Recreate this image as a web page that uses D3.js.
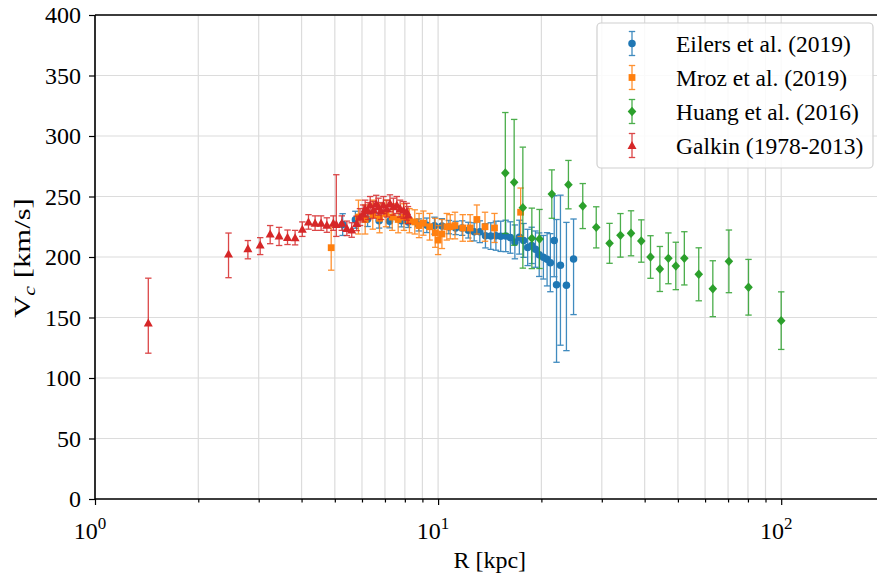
<!DOCTYPE html>
<html>
<head>
<meta charset="utf-8">
<script src="https://cdn.jsdelivr.net/npm/d3@7"></script>
<style>
  body { margin: 0; background: #fff; }
  text { font-family: "Liberation Serif", "Times New Roman", serif; }
</style>
</head>
<body>
<div id="chart"></div>
<script>
// rotation curve compilations
// Eilers et al. (2019)
var eilersR = [5.27, 5.74, 6.23, 6.73, 7.22, 7.82, 8.19, 8.78, 9.27, 9.76, 10.26, 10.75, 11.25, 11.75, 12.25, 12.74, 13.23, 13.74, 14.24, 14.74, 15.22, 15.74, 16.24, 16.74, 17.25, 17.75, 18.24, 18.74, 19.22, 19.71, 20.27, 20.78, 21.24, 21.80, 22.14, 22.73, 23.66, 24.82];
var eilersV = [226.8, 230.8, 231.2, 229.9, 229.6, 229.9, 228.9, 226.5, 226.2, 225.9, 225.7, 224.7, 224.0, 223.9, 222.2, 220.8, 220.9, 217.5, 217.3, 217.6, 217.1, 217.4, 216.1, 212.5, 216.4, 213.7, 207.9, 209.6, 206.5, 201.9, 199.8, 198.1, 195.3, 213.7, 177.0, 193.1, 176.6, 198.4];
var eilersLo = [9, 7, 6, 6, 5.5, 5, 4.5, 5, 6, 7, 6, 5.5, 5.5, 6, 6.5, 7.5, 9, 10, 11, 12, 12.5, 13, 13, 14, 14, 14, 15, 15, 15, 18, 18, 22, 24, 30, 64, 66, 54, 46];
var eilersHi = [9, 7, 6, 6, 5.5, 5, 4.5, 5, 6, 7, 6, 5.5, 5.5, 6, 6.5, 7.5, 9, 10, 11, 12, 12.5, 13, 13, 14, 14, 14, 15, 15, 15, 18, 18, 22, 24, 37, 54, 58, 52, 33];

// Mroz et al. (2019)
var mrozR = [4.88, 5.86, 6.13, 6.45, 6.75, 7.05, 7.35, 7.65, 7.95, 8.25, 8.55, 8.8, 9.06, 9.45, 9.81, 10.0, 10.26, 10.6, 10.85, 11.2, 11.8, 12.4, 12.97, 13.7, 14.6, 17.4];
var mrozV = [207.7, 233, 231, 235, 232, 236, 233, 231, 233, 230, 229, 226, 228, 225, 220, 214, 219, 225, 225, 226, 224, 224, 231, 225, 224, 237];
var mrozErr = [18.6, 14, 12, 12, 12, 11, 11, 11, 11, 10, 10, 10, 10, 11, 12, 12, 12, 11, 10, 11, 11, 11, 12, 12, 12, 20];

// Huang et al. (2016)
var huangR = [15.7, 16.66, 17.66, 18.76, 19.75, 21.45, 23.98, 26.4, 28.9, 31.6, 34.0, 36.5, 39.1, 41.6, 44.3, 46.9, 49.3, 52.2, 57.5, 63.2, 70.4, 80.3, 100];
var huangV = [269.4, 261.7, 240.8, 215.4, 214.9, 252, 259.8, 242.1, 224.5, 211.3, 217.9, 219.6, 213.2, 200, 190.1, 198.9, 192.6, 198.9, 185.7, 173.8, 196.4, 175, 147.4];
var huangErr = [50, 52, 50, 25, 24.4, 20, 20, 18.6, 17, 16.5, 18, 18.6, 17.5, 17.6, 18.6, 21, 19.6, 22, 21.9, 23.1, 25.9, 23, 23.8];

// Galkin (1978-2013)
var galkinR = [1.43, 2.45, 2.79, 3.03, 3.24, 3.44, 3.64, 3.83, 4.02, 4.19, 4.38, 4.56, 4.74, 4.95, 5.05, 5.24, 5.42, 5.6, 5.79, 5.92, 6.05, 6.13, 6.25, 6.34, 6.48, 6.6, 6.7, 6.82, 6.93, 7.09, 7.24, 7.41, 7.58, 7.75, 7.93, 8.1, 8.17];
var galkinV = [145.5, 202.5, 207, 210, 219, 217.5, 216.3, 216, 223, 229, 228, 228, 226.4, 228, 227, 228, 223.7, 222.3, 227.8, 233, 236, 240, 238, 243, 239, 244, 241.6, 238, 243, 240, 244.4, 241.6, 243, 240, 238.8, 237.4, 234.7];
var galkinLo = [25, 19.6, 8.5, 8, 8, 8, 6, 6, 6, 6, 6, 6, 6, 6, 10, 6, 6, 6, 6, 7, 7, 7, 7, 7, 7, 7, 7, 7, 7, 7, 7, 7, 7, 7, 7, 7, 7];
var galkinHi = [37, 17.3, 6.6, 6, 7, 7, 6, 6, 6, 6, 6, 6, 6, 6, 41, 6, 6, 6, 6, 7, 7, 7, 7, 7, 7, 7, 7, 7, 7, 7, 7, 7, 7, 7, 7, 7, 7];

var yTicks = [0, 50, 100, 150, 200, 250, 300, 350, 400];
var xMajor = [1, 10, 100];
var xMajorExp = ["0", "1", "2"];
var legendLabels = ["Eilers et al. (2019)", "Mroz et al. (2019)", "Huang et al. (2016)", "Galkin (1978-2013)"];
var colors = ["#1f77b4", "#ff7f0e", "#2ca02c", "#d62728"];

var width = 877, height = 576;
var plotLeft = 95, plotTop = 15, plotBottom = 499;
var plotRight = plotLeft + 343.1 * Math.log10(200);

var x = d3.scaleLog().domain([1, 200]).range([plotLeft, plotRight]);
var y = d3.scaleLinear().domain([0, 400]).range([plotBottom, plotTop]);

var svg = d3.select("#chart").append("svg")
  .attr("width", width).attr("height", height)
  .style("background", "#fff");

// minor positions for the log axis
var xMinor = [];
[1, 10, 100].forEach(function(d) {
  for (var k = 1; k < 10; k++) {
    if (k * d <= 200) xMinor.push(k * d);
  }
});

// grid
var grid = svg.append("g").attr("stroke", "#dcdcdc").attr("stroke-width", 1.2);
grid.selectAll("line.vx").data(xMinor).enter().append("line")
  .attr("x1", function(d) { return x(d); }).attr("x2", function(d) { return x(d); })
  .attr("y1", plotTop).attr("y2", plotBottom);
grid.selectAll("line.hy").data(yTicks).enter().append("line")
  .attr("y1", function(d) { return y(d); }).attr("y2", function(d) { return y(d); })
  .attr("x1", plotLeft).attr("x2", plotRight);

// shapes, matplotlib style markers
function markerPath(shape) {
  if (shape === "circle") return d3.symbol(d3.symbolCircle, 44)();
  if (shape === "square") return "M-3.4,-3.4L3.4,-3.4L3.4,3.4L-3.4,3.4Z";
  if (shape === "diamond") return "M0,-4.7L4.3,0L0,4.7L-4.3,0Z";
  return "M0,-4.5L-4.5,3.6L4.5,3.6Z";
}

function drawSeries(R, V, lo, hi, color, shape) {
  var g = svg.append("g");
  var pts = R.map(function(r, i) { return {r: r, v: V[i], lo: lo[i], hi: hi[i]}; });
  var bars = g.append("g").attr("stroke", color).attr("stroke-width", 1.3).attr("opacity", 0.85);
  bars.selectAll("line.bar").data(pts).enter().append("line")
    .attr("x1", function(d) { return x(d.r); }).attr("x2", function(d) { return x(d.r); })
    .attr("y1", function(d) { return y(d.v - d.lo); }).attr("y2", function(d) { return y(d.v + d.hi); });
  bars.selectAll("line.capLo").data(pts).enter().append("line")
    .attr("x1", function(d) { return x(d.r) - 3.2; }).attr("x2", function(d) { return x(d.r) + 3.2; })
    .attr("y1", function(d) { return y(d.v - d.lo); }).attr("y2", function(d) { return y(d.v - d.lo); });
  bars.selectAll("line.capHi").data(pts).enter().append("line")
    .attr("x1", function(d) { return x(d.r) - 3.2; }).attr("x2", function(d) { return x(d.r) + 3.2; })
    .attr("y1", function(d) { return y(d.v + d.hi); }).attr("y2", function(d) { return y(d.v + d.hi); });
  g.selectAll("path").data(pts).enter().append("path")
    .attr("d", markerPath(shape))
    .attr("fill", color)
    .attr("transform", function(d) { return "translate(" + x(d.r) + "," + y(d.v) + ")"; });
}

drawSeries(eilersR, eilersV, eilersLo, eilersHi, colors[0], "circle");
drawSeries(mrozR, mrozV, mrozErr, mrozErr, colors[1], "square");
drawSeries(huangR, huangV, huangErr, huangErr, colors[2], "diamond");
drawSeries(galkinR, galkinV, galkinLo, galkinHi, colors[3], "triangle");

// axes
var xAxis = svg.append("g").attr("transform", "translate(0," + plotBottom + ")")
  .call(d3.axisBottom(x).tickValues(xMajor).tickSize(6).tickFormat(""));
var xAxisMinor = svg.append("g").attr("transform", "translate(0," + plotBottom + ")")
  .call(d3.axisBottom(x).tickValues(xMinor.filter(function(d) { return xMajor.indexOf(d) < 0; })).tickSize(3.5).tickFormat(""));
[xAxis, xAxisMinor].forEach(function(a) {
  a.select(".domain").remove();
  a.selectAll(".tick line").attr("stroke", "#000").attr("stroke-width", 1.2);
});

xMajor.forEach(function(d, i) {
  var t = svg.append("text").attr("x", x(d) - 5).attr("y", 539)
    .attr("text-anchor", "middle").attr("font-size", 24).attr("fill", "#000");
  t.append("tspan").text("10");
  t.append("tspan").attr("dy", -10).attr("font-size", 17).text(xMajorExp[i]);
});

var yAxis = svg.append("g").attr("transform", "translate(" + plotLeft + ",0)")
  .call(d3.axisLeft(y).tickValues(yTicks).tickSize(6).tickPadding(8));
yAxis.select(".domain").remove();
yAxis.selectAll(".tick line").attr("stroke", "#000").attr("stroke-width", 1.2);
yAxis.selectAll(".tick text").attr("font-size", 24).attr("font-family", "Liberation Serif").attr("fill", "#000");

// spines
var spines = svg.append("g").attr("stroke", "#000").attr("stroke-width", 1.6);
spines.append("line").attr("x1", plotLeft).attr("x2", plotLeft).attr("y1", plotTop).attr("y2", plotBottom);
spines.append("line").attr("x1", plotLeft).attr("x2", plotRight).attr("y1", plotBottom).attr("y2", plotBottom);
spines.append("line").attr("x1", plotLeft).attr("x2", plotRight).attr("y1", plotTop).attr("y2", plotTop);

// axis labels
svg.append("text").attr("x", (plotLeft + plotRight) / 2).attr("y", 568)
  .attr("text-anchor", "middle").attr("font-size", 24).text("R [kpc]");

// the reference label is drawn stretched along its length
var yl = svg.append("text").attr("transform", "translate(30,258) rotate(-90) scale(1.28,1)")
  .attr("text-anchor", "middle").attr("font-size", 24);
yl.append("tspan").text("V");
yl.append("tspan").attr("dy", 5).attr("font-size", 17).attr("font-style", "italic").text("c");
yl.append("tspan").attr("dy", -5).text(" [km/s]");

// legend
var legend = svg.append("g");
legend.append("rect").attr("x", 597).attr("y", 23).attr("width", 276).attr("height", 145)
  .attr("rx", 4).attr("fill", "#fff").attr("fill-opacity", 0.85)
  .attr("stroke", "#d0d0d0").attr("stroke-width", 1.2);
var shapes = ["circle", "square", "diamond", "triangle"];
legendLabels.forEach(function(lab, i) {
  var cy = 43.5 + i * 34;
  var row = legend.append("g");
  var eb = row.append("g").attr("stroke", colors[i]).attr("stroke-width", 1.3).attr("opacity", 0.85);
  eb.append("line").attr("x1", 632).attr("x2", 632).attr("y1", cy - 12).attr("y2", cy + 12);
  eb.append("line").attr("x1", 628.8).attr("x2", 635.2).attr("y1", cy - 12).attr("y2", cy - 12);
  eb.append("line").attr("x1", 628.8).attr("x2", 635.2).attr("y1", cy + 12).attr("y2", cy + 12);
  row.append("path").attr("d", markerPath(shapes[i])).attr("fill", colors[i])
    .attr("transform", "translate(632," + cy + ")");
  row.append("text").attr("x", 676).attr("y", cy + 8).attr("font-size", 23.5).text(lab);
});
</script>
</body>
</html>
